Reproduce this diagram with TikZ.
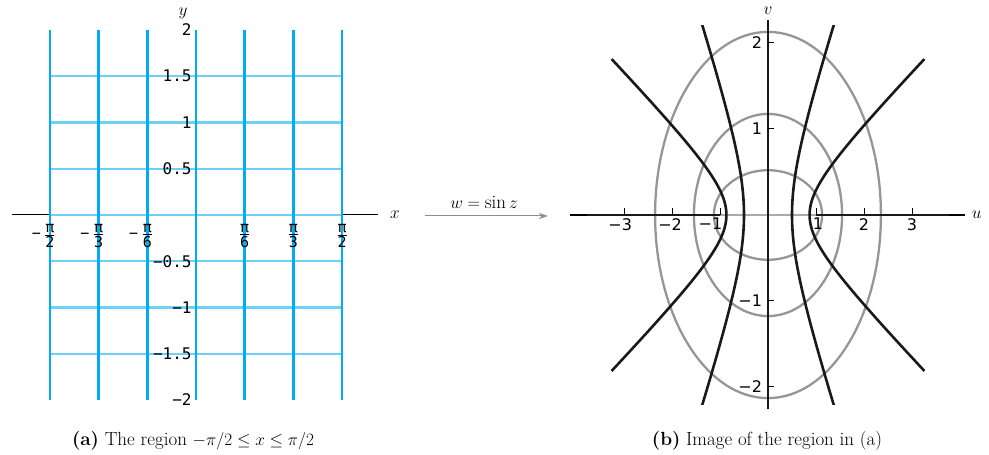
\documentclass[tikz,border=0pt]{standalone}
\usepackage{amsmath}
\usepackage{fontspec}
\newfontfamily\monof{DejaVu Sans Mono}
\newfontfamily\sansf{DejaVu Sans}
\usetikzlibrary{arrows.meta}
\definecolor{vblue}{RGB}{0,174,239}
\definecolor{hblue}{RGB}{110,208,246}
\definecolor{ellgray}{RGB}{150,150,150}
\definecolor{hypblack}{RGB}{25,25,25}
\definecolor{arrgray}{RGB}{140,140,140}
\newcommand{\myfr}[2]{$\genfrac{}{}{0.8pt}{1}{\hbox{#1}}{\hbox{#2}}$}
\begin{document}
\begin{tikzpicture}[x=1pt,y=1pt,
  vline/.style={vblue, line width=2.7pt},
  hline/.style={hblue, line width=2.3pt},
  ax/.style={black, line width=1pt},
  ylab/.style={font=\monof\fontsize{16}{16}\selectfont, anchor=east, inner sep=0pt},
  xfrac/.style={font=\monof\fontsize{15}{15}\selectfont, inner sep=0pt},
  xminus/.style={font=\monof\fontsize{15}{15}\selectfont, inner sep=0pt, anchor=east},
  ulab/.style={font=\sansf\fontsize{16}{16}\selectfont, inner sep=0pt, anchor=north},
  vlab/.style={font=\sansf\fontsize{16}{16}\selectfont, inner sep=0pt, anchor=east},
  ell/.style={ellgray, line width=2.3pt},
  hyp/.style={hypblack, line width=2.6pt},
  axlab/.style={font=\fontsize{19}{19}\selectfont, inner sep=0pt},
  capt/.style={font=\fontsize{19}{19}\selectfont, inner sep=0pt}
]
\useasboundingbox (0,0) rectangle (989,455);
% ---------- left plot ----------
\begin{scope}[shift={(196pt,240pt)}, x=93pt, y=92.5pt]
  \draw[ax] (-1.98,0) -- (1.96,0);
  \foreach \k in {-3,...,3} \draw[hline] ({-pi/2},{\k/2}) -- ({pi/2},{\k/2});
  \foreach \k in {-3,...,3} \draw[vline] ({\k*pi/6},-2) -- ({\k*pi/6},2);
  \node[axlab] (xl) at (2.14,0) {$x$};
  \node[axlab] (yl) at (-0.14,2.18) {$y$};
  \foreach \v/\t [count=\i] in {2/2,1.5/1.5,1/1,0.5/0.5,-0.5/{−0.5},-1/{−1},-1.5/{−1.5},-2/{−2}}
    \node[ylab] (ty\i) at (-0.045,\v) {\t};
  \foreach \k/\d [count=\i] in {-3/2,-2/3,-1/6}{
    \node[xfrac] (fx\i) at ({\k*pi/6},-0.227) {\myfr{π}{\d}};
    \node[xminus] (mx\i) at ([xshift=-3pt]fx\i.west) {−};
  }
  \foreach \k/\d [count=\i] in {1/6,2/3,3/2}
    \node[xfrac] (px\i) at ({\k*pi/6},-0.227) {\myfr{π}{\d}};
\end{scope}
% ---------- arrow ----------
\coordinate (as) at (425,239);
\coordinate (ae) at (548,239);
\draw[arrgray, line width=1pt, -{Stealth[length=9pt,width=6pt]}] (as) -- (ae);
\node[font=\fontsize{19}{19}\selectfont, inner sep=0pt] (map) at (484,253) {$w=\sin z$};
% ---------- right plot ----------
\begin{scope}[shift={(768pt,240pt)}, x=48pt, y=86pt]
  \draw[black, line width=1.2pt] (-4.125,0) -- (4.1,0);
  \foreach \c/\ch/\sh in {0.5/1.1276/0.5211, 1/1.5431/1.1752, 1.5/2.3524/2.1293}
    \draw[ell] (0,0) ellipse [x radius=\ch, y radius=\sh];
  \draw[ellgray!80, line width=1.5pt] (-1,0) -- (1,0);
  \draw[hyp] (-3.762,0) -- (-1,0);
  \draw[hyp] (1,0) -- (3.762,0);
  \draw[hypblack, line width=2.2pt] (0,-2.26) -- (0,2.27);
  \begin{scope}
    \clip (-5,-2.2) rectangle (5,2.2);
    \foreach \a in {30,60}{
      \draw[hyp] plot[domain=-2:2, samples=80, variable=\t] ({sin(\a)*cosh(\t)},{cos(\a)*sinh(\t)});
      \draw[hyp] plot[domain=-2:2, samples=80, variable=\t] ({-sin(\a)*cosh(\t)},{cos(\a)*sinh(\t)});
    }
  \end{scope}
  \foreach \u in {-3,-2,-1,1,2,3} \draw[ax] (\u,0) -- (\u,0.085);
  \foreach \v in {-2,-1,1,2} \draw[ax] (0,\v) -- (0.13,\v);
  \node[ulab] (u1) at (-3.08,-0.035) {−3};
  \node[ulab] (u2) at (-2.04,-0.035) {−2};
  \node[ulab] (u3) at (-1.2,-0.035) {−1};
  \node[ulab] (u4) at (1.04,-0.035) {1};
  \node[ulab] (u5) at (2,-0.035) {2};
  \node[ulab] (u6) at (3,-0.035) {3};
  \node[vlab] (v1) at (-0.12,2) {2};
  \node[vlab] (v2) at (-0.12,1) {1};
  \node[vlab] (v3) at (-0.12,-1) {−1};
  \node[vlab] (v4) at (-0.12,-2) {−2};
  \node[axlab] (ul) at (4.35,0) {$u$};
  \node[axlab] (vl) at (0,2.37) {$v$};
\end{scope}
% ---------- captions ----------
\node[capt] (ca) at (193,14) {\textbf{(a)} The region $-\pi/2\le x\le\pi/2$};
\node[capt] (cb) at (767,14) {\textbf{(b)} Image of the region in (a)};
\end{tikzpicture}
\end{document}
